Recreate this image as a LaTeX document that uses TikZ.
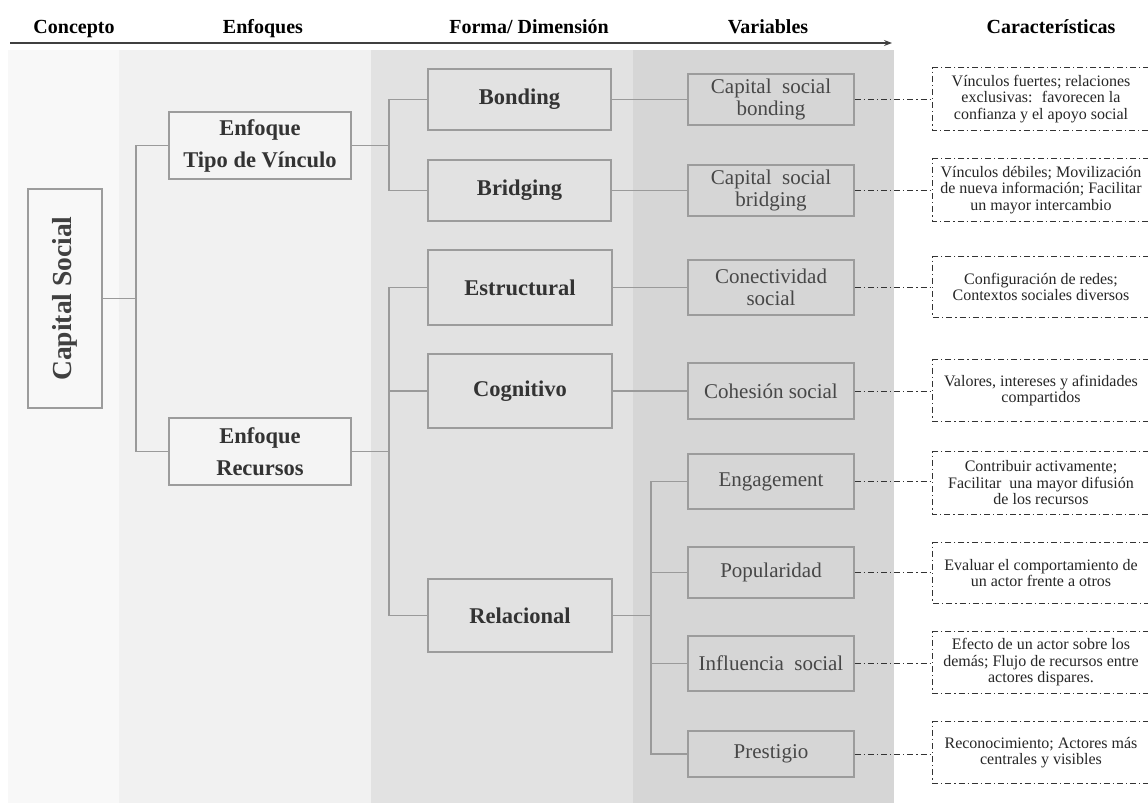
\documentclass[tikz,border=0pt]{standalone}
\usepackage{fontspec}
\setmainfont{Liberation Serif}
\usetikzlibrary{arrows.meta}
\definecolor{bandA}{HTML}{F8F8F8}
\definecolor{bandB}{HTML}{F1F1F1}
\definecolor{bandC}{HTML}{E2E2E2}
\definecolor{bandD}{HTML}{D6D6D6}
\definecolor{boxgray}{HTML}{9C9C9C}
\definecolor{linegray}{HTML}{9A9A9A}
\definecolor{txtdark}{HTML}{333333}
\tikzset{
  sbox/.style={draw=boxgray, line width=1.3pt, text=txtdark, align=center, inner sep=0pt,
    font=\fontsize{22.5}{32}\selectfont\bfseries},
  vbox/.style={draw=boxgray, line width=1.3pt, text=txtdark!90, align=center, inner sep=0pt,
    font=\fontsize{21}{22.5}\selectfont},
  cbox/.style={draw=none, text=black!85, align=center, inner sep=0pt, minimum width=216pt,
    font=\fontsize{16}{16.5}\selectfont},
  conn/.style={draw=linegray, line width=1.3pt},
  dconn/.style={draw=black!80, line width=0.9pt, dash pattern=on 6pt off 3pt on 1.2pt off 3pt},
  hdr/.style={anchor=base, font=\fontsize{20}{24}\selectfont\bfseries, text=black, inner sep=0pt}
}
\begin{document}
\begin{tikzpicture}[x=1pt, y=-1pt]
\useasboundingbox (0,0) rectangle (1148,803);
\fill[white] (0,0) rectangle (1148,803);
% bands
\fill[bandA] (8,50) rectangle (119,803);
\fill[bandB] (119,50) rectangle (371,803);
\fill[bandC] (371,50) rectangle (633,803);
\fill[bandD] (633,50) rectangle (894,803);
% header
\node[hdr] (h1) at (74,33) {Concepto};
\node[hdr] (h2) at (263,33) {Enfoques};
\node[hdr] (h3) at (529,33) {Forma/ Dimensión};
\node[hdr] (h4) at (768,33) {Variables};
\node[hdr] (h5) at (1051,33) {Características};
\coordinate (arrS) at (10,43);
\coordinate (arrE) at (892,43);
\draw[black!75, line width=1.2pt, -{Stealth[length=8pt,width=6pt]}] (arrS) -- (arrE);
% concept
\node[sbox, fill=bandA, minimum width=74pt, minimum height=219pt, text=black!75] (cs) at (65,298.5)
  {\rotatebox{90}{\fontsize{27.5}{30}\selectfont\bfseries Capital Social}};
% enfoques
\node[sbox, fill=bandB!80!white, minimum width=182pt, minimum height=67pt] (et) at (260,145.5) {Enfoque\\Tipo de Vínculo};
\node[sbox, fill=bandB!80!white, minimum width=182pt, minimum height=67pt] (er) at (260,451.5) {Enfoque\\Recursos};
% forma
\node[sbox, fill=bandC, minimum width=183pt, minimum height=61pt] (bo) at (519.5,99.5) {Bonding};
\node[sbox, fill=bandC, minimum width=183pt, minimum height=61pt] (br) at (519.5,190.5) {Bridging};
\node[sbox, fill=bandC, minimum width=184pt, minimum height=75pt] (es) at (520,287.5) {Estructural};
\node[sbox, fill=bandC, minimum width=184pt, minimum height=74pt] (cg) at (520,391) {Cognitivo};
\node[sbox, fill=bandC, minimum width=184pt, minimum height=73pt] (re) at (520,615.5) {Relacional};
% variables
\node[vbox, fill=bandD, minimum width=166pt, minimum height=51pt] (vb) at (771,99.5) {Capital~~social\\bonding};
\node[vbox, fill=bandD, minimum width=166pt, minimum height=51pt] (vbr) at (771,190.5) {Capital~~social\\bridging};
\node[vbox, fill=bandD, minimum width=166pt, minimum height=55pt] (vc) at (771,287.5) {Conectividad\\social};
\node[vbox, fill=bandD, minimum width=166pt, minimum height=56pt] (vh) at (771,391) {Cohesión social};
\node[vbox, fill=bandD, minimum width=166pt, minimum height=55pt] (ve) at (771,481.5) {Engagement};
\node[vbox, fill=bandD, minimum width=166pt, minimum height=51pt] (vp) at (771,572.5) {Popularidad};
\node[vbox, fill=bandD, minimum width=166pt, minimum height=55pt] (vi) at (771,663.5) {Influencia~~social};
\node[vbox, fill=bandD, minimum width=166pt, minimum height=46pt] (vpr) at (771,754) {Prestigio};
% characteristics
\node[cbox, minimum height=62pt] (c1) at (1041,99) {Vínculos fuertes; relaciones\\exclusivas:~ favorecen la\\confianza y el apoyo social};
\node[cbox, minimum height=62pt] (c2) at (1041,190) {Vínculos débiles; Movilización\\de nueva información; Facilitar\\un mayor intercambio};
\node[cbox, minimum height=60pt] (c3) at (1041,287) {Configuración de redes;\\Contextos sociales diversos};
\node[cbox, minimum height=61pt] (c4) at (1041,390.5) {Valores, intereses y afinidades\\compartidos};
\node[cbox, minimum height=62pt] (c5) at (1041,483) {Contribuir activamente;\\Facilitar~ una mayor difusión\\de los recursos};
\node[cbox, minimum height=60pt] (c6) at (1041,573) {Evaluar el comportamiento de\\un actor frente a otros};
\node[cbox, minimum height=61pt] (c7) at (1041,662.5) {Efecto de un actor sobre los\\demás; Flujo de recursos entre\\actores dispares.};
\node[cbox, minimum height=61pt] (c8) at (1041,752.5) {Reconocimiento; Actores más\\centrales y visibles};
\foreach \c in {c1,c2,c3,c4,c5,c6,c7,c8}{
  \draw[dconn] (\c.north east) -- (\c.north west) -- (\c.south west) -- (\c.south east);
}
% trunks
\coordinate (t1) at (136,0);
\coordinate (t2) at (389,0);
\coordinate (t3) at (651,0);
\draw[conn] (cs.east) -- (cs.east -| t1);
\draw[conn] (et.west) -- (et.west -| t1) -- (er.west -| t1) -- (er.west);
\draw[conn] (et.east) -- (et.east -| t2);
\draw[conn] (bo.west) -- (bo.west -| t2) -- (br.west -| t2) -- (br.west);
\draw[conn] (er.east) -- (er.east -| t2);
\draw[conn] (es.west) -- (es.west -| t2) -- (re.west -| t2) -- (re.west);
\draw[conn] (cg.west) -- (cg.west -| t2);
\draw[conn] (bo.east) -- (vb.west);
\draw[conn] (br.east) -- (vbr.west);
\draw[conn] (es.east) -- (vc.west);
\draw[conn] (cg.east) -- (vh.west);
\draw[conn] (re.east) -- (re.east -| t3);
\draw[conn] (ve.west) -- (ve.west -| t3) -- (vpr.west -| t3) -- (vpr.west);
\draw[conn] (vp.west) -- (vp.west -| t3);
\draw[conn] (vi.west) -- (vi.west -| t3);
% dash-dot links
\draw[dconn] (vb.east) -- (vb.east -| c1.west);
\draw[dconn] (vbr.east) -- (vbr.east -| c2.west);
\draw[dconn] (vc.east) -- (vc.east -| c3.west);
\draw[dconn] (vh.east) -- (vh.east -| c4.west);
\draw[dconn] (ve.east) -- (ve.east -| c5.west);
\draw[dconn] (vp.east) -- (vp.east -| c6.west);
\draw[dconn] (vi.east) -- (vi.east -| c7.west);
\draw[dconn] (vpr.east) -- (vpr.east -| c8.west);
\end{tikzpicture}
\end{document}
